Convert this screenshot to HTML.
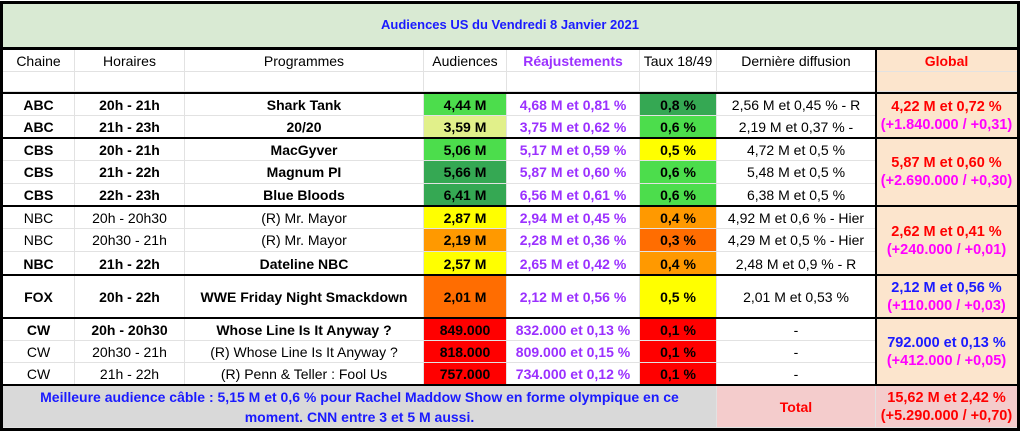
<!DOCTYPE html>
<html><head><meta charset="utf-8">
<style>
html,body{margin:0;padding:0;background:#fff;}
#t{position:relative;width:1022px;height:433px;overflow:hidden;font-family:"Liberation Sans",Arial,sans-serif;font-size:14px;color:#000;}
.c{position:absolute;box-sizing:border-box;display:flex;align-items:center;justify-content:center;text-align:center;border-right:1px solid #e2e2e2;border-bottom:1px solid #e2e2e2;line-height:16px;white-space:nowrap;}
.hl{position:absolute;background:#000;}
</style></head><body>
<div id="t"></div>
<script>
const cols=[3,75,185,424,507,640,717,876,1018];
const rowTop=[94,116,139,161,184,207,229,252,276,319,341,363,386];
const chaines=["ABC","ABC","CBS","CBS","CBS","NBC","NBC","NBC","FOX","CW","CW","CW"];
const horaires=["20h - 21h","21h - 23h","20h - 21h","21h - 22h","22h - 23h","20h - 20h30","20h30 - 21h","21h - 22h","20h - 22h","20h - 20h30","20h30 - 21h","21h - 22h"];
const programmes=["Shark Tank","20/20","MacGyver","Magnum PI","Blue Bloods","(R) Mr. Mayor","(R) Mr. Mayor","Dateline NBC","WWE Friday Night Smackdown","Whose Line Is It Anyway ?","(R) Whose Line Is It Anyway ?","(R) Penn & Teller : Fool Us"];
const boldRow=[1,1,1,1,1,0,0,1,1,1,0,0];
const audiences=["4,44 M","3,59 M","5,06 M","5,66 M","6,41 M","2,87 M","2,19 M","2,57 M","2,01 M","849.000","818.000","757.000"];
const audColor=["#4cdd4c","#e1f08a","#4cdd4c","#35a853","#35a853","#ffff00","#ff9900","#ffff00","#ff6d01","#ff0000","#ff0000","#ff0000"];
const reaj=["4,68 M et 0,81 %","3,75 M et 0,62 %","5,17 M et 0,59 %","5,87 M et 0,60 %","6,56 M et 0,61 %","2,94 M et 0,45 %","2,28 M et 0,36 %","2,65 M et 0,42 %","2,12 M et 0,56 %","832.000 et 0,13 %","809.000 et 0,15 %","734.000 et 0,12 %"];
const taux=["0,8 %","0,6 %","0,5 %","0,6 %","0,6 %","0,4 %","0,3 %","0,4 %","0,5 %","0,1 %","0,1 %","0,1 %"];
const tauxColor=["#35a853","#4cdd4c","#ffff00","#4cdd4c","#4cdd4c","#ff9900","#ff6d01","#ff9900","#ffff00","#ff0000","#ff0000","#ff0000"];
const derniere=["2,56 M et 0,45 % - R","2,19 M et 0,37 % -","4,72 M et 0,5 %","5,48 M et 0,5 %","6,38 M et 0,5 %","4,92 M et 0,6 % - Hier","4,29 M et 0,5 % - Hier","2,48 M et 0,9 % - R","2,01 M et 0,53 %","-","-","-"];
const globalMain=["4,22 M et 0,72 %","5,87 M et 0,60 %","2,62 M et 0,41 %","2,12 M et 0,56 %","792.000 et 0,13 %"];
const globalMainColor=["#ff0000","#ff0000","#ff0000","#1a1aff","#1a1aff"];
const globalDelta=["(+1.840.000 / +0,31)","(+2.690.000 / +0,30)","(+240.000 / +0,01)","(+110.000 / +0,03)","(+412.000 / +0,05)"];
const T=document.getElementById('t');
function cell(x1,y1,x2,y2,html,style,name){
  const d=document.createElement('div');
  d.className='c';
  d.style.left=x1+'px';d.style.top=y1+'px';d.style.width=(x2-x1)+'px';d.style.height=(y2-y1)+'px';
  if(style) d.style.cssText+=style;
  d.innerHTML=html;
  
  
  T.appendChild(d);return d;
}
cell(3,3,1018,48,'Audiences US du Vendredi 8 Janvier 2021','background:#d9ead3;color:#1a1aff;font-weight:bold;font-size:13px;','table-title');
const heads=["Chaine","Horaires","Programmes","Audiences","Réajustements","Taux 18/49","Dernière diffusion","Global"];
for(let i=0;i<8;i++){
  let st='';
  if(i===4) st+='color:#9b30ff;font-weight:bold;';
  if(i===7) st+='color:#ff0000;font-weight:bold;background:#fce5cd;';
  cell(cols[i],50,cols[i+1],72,heads[i],st,'header-'+heads[i].toLowerCase().replace(/[^a-z0-9]+/g,'-'));
  cell(cols[i],72,cols[i+1],92,'',i===7?'background:#fce5cd;':'','header-spacer');
}
for(let r=0;r<12;r++){
  const y1=rowTop[r],y2=(r===8?318:(r===11?385:rowTop[r+1]));
  const bw=boldRow[r]?'font-weight:bold;':'';
  cell(cols[0],y1,cols[1],y2,chaines[r],bw,'chaine-cell');
  cell(cols[1],y1,cols[2],y2,horaires[r],bw,'horaire-cell');
  cell(cols[2],y1,cols[3],y2,programmes[r],bw,'programme-cell');
  cell(cols[3],y1,cols[4],y2,audiences[r],'font-weight:bold;background:'+audColor[r]+';','audience-cell');
  cell(cols[4],y1,cols[5],y2,reaj[r],'font-weight:bold;color:#9b30ff;','reajustement-cell');
  cell(cols[5],y1,cols[6],y2,taux[r],'font-weight:bold;background:'+tauxColor[r]+';','taux-cell');
  cell(cols[6],y1,cols[7],y2,derniere[r],'','derniere-diffusion-cell');
}
const gy=[94,139,207,276,319], gy2=[138,206,275,318,385];
for(let g=0;g<5;g++){
  cell(cols[7],gy[g],cols[8],gy2[g],'<div><div style="color:'+globalMainColor[g]+'">'+globalMain[g]+'</div><div style="color:#ff00ff;margin-top:2px">'+globalDelta[g]+'</div></div>','background:#fce5cd;font-weight:bold;font-size:14.5px;','global-cell');
}
cell(3,386,717,428,'<div style="line-height:20px">Meilleure audience câble : 5,15 M et 0,6 % pour Rachel Maddow Show en forme olympique en ce<br>moment. CNN entre 3 et 5 M aussi.</div>','background:#d9d9d9;color:#1a1aff;font-weight:bold;white-space:normal;','footer-note');
cell(717,386,876,428,'Total','background:#f4cccc;color:#ff0000;font-weight:bold;','total-label');
cell(876,386,1018,428,'<div><div>15,62 M et 2,42 %</div><div style="margin-top:2px">(+5.290.000 / +0,70)</div></div>','background:#f4cccc;color:#ff0000;font-weight:bold;font-size:14.5px;','total-value');
const thick=[[0,1,1020,3],[0,47,1020,3],[0,92,1020,2],[0,137,1020,2],[0,205,1020,2],[0,274,1020,2],[0,317,1020,2],[0,384,1020,2],[0,428,1020,3]];
thick.forEach(a=>{const d=document.createElement('div');d.className='hl';d.style.left=a[0]+'px';d.style.top=a[1]+'px';d.style.width=a[2]+'px';d.style.height=a[3]+'px';


T.appendChild(d);});
const vth=[[0,1,3,430],[1017,1,3,430],[875,48,2,337]];
vth.forEach(a=>{const d=document.createElement('div');d.className='hl';d.style.left=a[0]+'px';d.style.top=a[1]+'px';d.style.width=a[2]+'px';d.style.height=a[3]+'px';


T.appendChild(d);});
</script>
</body></html>
